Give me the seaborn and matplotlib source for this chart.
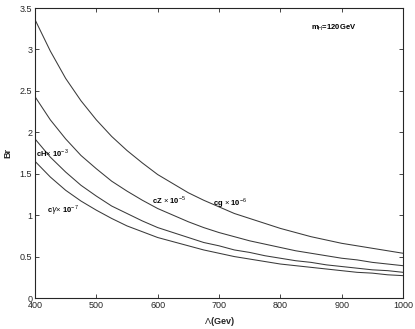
import numpy as np
import pandas as pd
import matplotlib
matplotlib.use("Agg")
import matplotlib.pyplot as plt
import seaborn as sns

# values
lam = list(range(400, 1001, 25))
br_cg = [3.36, 2.98, 2.65, 2.38, 2.15, 1.95, 1.78, 1.63, 1.49, 1.38, 1.27, 1.18, 1.10,
         1.02, 0.96, 0.90, 0.84, 0.79, 0.74, 0.70, 0.66, 0.63, 0.60, 0.57, 0.54]
br_cz = [2.43, 2.15, 1.92, 1.72, 1.56, 1.41, 1.29, 1.18, 1.08, 1.00, 0.92, 0.85, 0.79,
         0.74, 0.69, 0.65, 0.61, 0.57, 0.54, 0.51, 0.48, 0.46, 0.43, 0.41, 0.39]
br_ch = [1.92, 1.70, 1.52, 1.36, 1.23, 1.11, 1.02, 0.93, 0.85, 0.79, 0.73, 0.67, 0.63,
         0.58, 0.55, 0.51, 0.48, 0.45, 0.43, 0.40, 0.38, 0.36, 0.34, 0.33, 0.31]
br_cy = [1.65, 1.46, 1.30, 1.17, 1.06, 0.96, 0.87, 0.80, 0.73, 0.68, 0.63, 0.58, 0.54,
         0.50, 0.47, 0.44, 0.41, 0.39, 0.37, 0.35, 0.33, 0.31, 0.30, 0.28, 0.27]
series = ['cg', 'cZ', 'cH', 'cy']

df = pd.DataFrame({'lam': lam * 4,
                   'br': br_cg + br_cz + br_ch + br_cy,
                   'coupling': np.repeat(series, len(lam))})

sns.set_theme(style="ticks")
plt.rcParams['font.family'] = ['Liberation Sans', 'DejaVu Sans']
plt.rcParams['mathtext.fontset'] = 'custom'
plt.rcParams['mathtext.rm'] = 'Liberation Sans'
plt.rcParams['mathtext.bf'] = 'Liberation Sans:bold'

fig = plt.figure(figsize=(4.15, 3.29), dpi=100)
ax = fig.add_axes([35 / 415, 31 / 329, 368 / 415, 290 / 329])

sns.lineplot(data=df, x='lam', y='br', units='coupling', estimator=None,
             color='#3a3a3a', linewidth=0.75, ax=ax, legend=False)

ax.set_xlim(400, 1000)
ax.set_ylim(0, 3.5)
ax.set_xticks(range(400, 1001, 100))
ax.set_yticks([0, 0.5, 1, 1.5, 2, 2.5, 3, 3.5])
ax.set_yticklabels(['0', '0.5', '1', '1.5', '2', '2.5', '3', '3.5'])
ax.tick_params(direction='in', top=True, right=True, labelsize=6.5,
               length=3, width=0.6, pad=2)
for s in ax.spines.values():
    s.set_linewidth(0.8)

ax.set_xlabel(r'$\Lambda$(Gev)', fontsize=6.5, fontweight='bold', labelpad=4)
ax.set_ylabel('Br', fontsize=6.5, fontweight='bold', labelpad=5)

lab = dict(fontsize=5.5, fontweight='bold', color='black')
ax.text(402, 1.75, r'cH$\times$ 10$^{-3}$', ha='left', va='center', **lab)
ax.text(420, 1.06, r'c$\gamma$$\times$ 10$^{-7}$', ha='left', va='center', **lab)
ax.text(590, 1.18, r'cZ $\times$ 10$^{-5}$', ha='left', va='center', **lab)
ax.text(690, 1.15, r'cg $\times$ 10$^{-6}$', ha='left', va='center', **lab)
ax.text(850, 3.26, r'm$_{\rm H}$=120GeV', ha='left', va='center', **lab)

fig.savefig('out.png', dpi=100)
